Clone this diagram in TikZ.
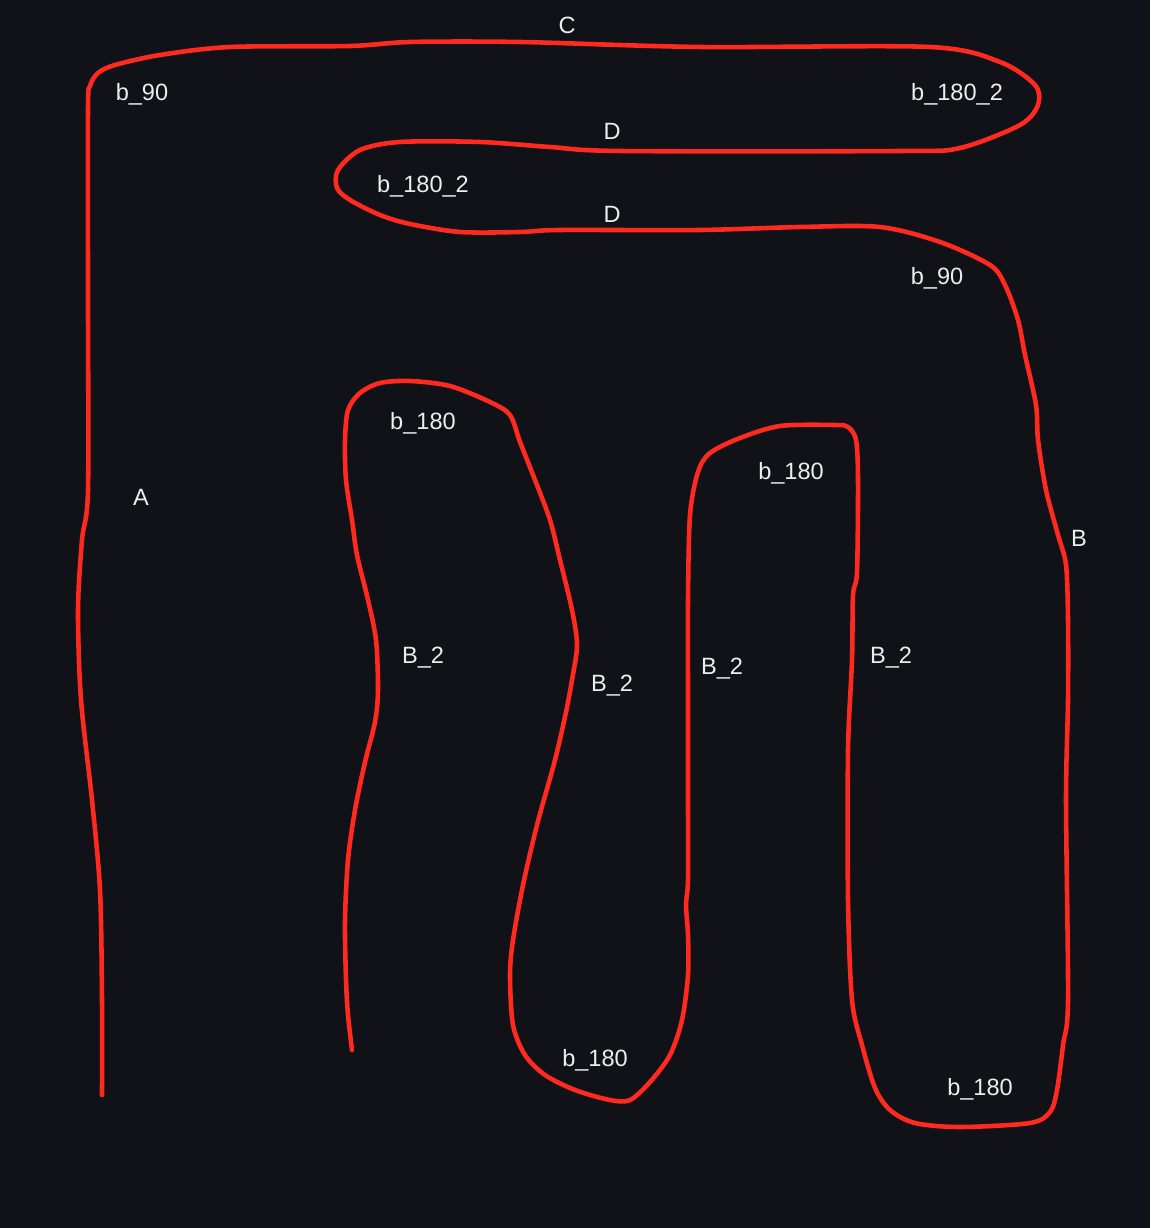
\documentclass[tikz,border=0pt]{standalone}
\usepackage{fontspec}
\setmainfont{Liberation Sans}
\usepackage{xcolor}
\usetikzlibrary{positioning}

\definecolor{bgdark}{HTML}{111217}
\definecolor{trackred}{HTML}{FF2A1F}
\definecolor{lbltext}{HTML}{EDEDED}

\begin{document}
\begin{tikzpicture}[
    x=0.01cm, y=-0.01cm,
    track/.style={draw=trackred, line width=1.3pt, line cap=round, line join=round},
    lbl/.style={text=lbltext, font=\fontsize{6.7}{8}\selectfont, inner sep=0pt},
  ]

  % background
  \fill[bgdark] (0,0) rectangle (1150,1228);
  \useasboundingbox (0,0) rectangle (1150,1228);

  % ===== the track =====
  \draw[track] plot[smooth, tension=0.5] coordinates {
    (102,1095) (102,1000) (100,890) (92,800) (81,700) (78,610) (82,540) (88,490)
    (88,300) (88,110) (90,86) (98,73) (115,65) (160,55) (230,47) (350,46)
    (410,42) (520,42) (700,47) (930,47) (1000,62) (1035,85) (1038,105)
    (1020,125) (960,148) (900,151) (620,151) (550,147) (480,142) (400,142)
    (360,150) (338,170) (337,188) (350,200) (380,215) (410,224) (460,232)
    (520,232) (560,230) (700,230) (800,227) (880,227) (940,242) (990,265)
    (1005,285) (1018,320) (1025,355) (1036,405) (1038,440) (1046,490)
    (1058,535) (1066,565) (1068,620) (1068,700) (1066,800) (1068,1000)
    (1063,1045) (1057,1090) (1050,1112) (1030,1123) (960,1127) (915,1123)
    (890,1110) (875,1088) (862,1045) (852,1000) (848,900) (848,750) (852,660)
    (853,595) (857,572) (858,480) (856,440) (848,427) (835,425) (780,426)
    (740,438) (710,453) (698,472) (690,515) (688,600) (688,700) (688,800)
    (688,880) (686,905) (688,935) (688,975) (682,1020) (670,1055) (650,1082)
    (630,1100) (610,1100) (575,1090) (545,1075) (525,1055) (513,1025)
    (510,975) (513,940) (523,885) (537,825) (555,760) (566,712) (572,680)
    (577,645) (572,610) (560,560) (550,520) (535,480) (520,442) (510,415)
    (490,402) (450,386) (410,381) (380,383) (360,393) (348,410) (345,440)
    (346,480) (352,520) (357,555) (368,600) (376,640) (378,690) (375,722)
    (365,762) (355,810) (348,860) (345,920) (346,980) (348,1015) (352,1050)
  };

  % ===== labels =====
  \node[lbl] (lC) at (567,25) {C};
  \node[lbl] (lb90a) at (142,94) {b\_90};
  \node[lbl] (lb1802a) at (957,94) {b\_180\_2};
  \node[lbl] (lDa) at (612,131) {D};
  \node[lbl] (lb1802b) at (423,186) {b\_180\_2};
  \node[lbl] (lDb) at (612,214) {D};
  \node[lbl] (lb90b) at (937,278) {b\_90};
  \node[lbl] (lA) at (141,497) {A};
  \node[lbl] (lB) at (1079,538) {B};

  \node[lbl] (lb180a) at (423,423) {b\_180};
  \node[lbl] (lb180b) at (791,473) {b\_180};
  \node[lbl] (lB2a) at (423,658) {B\_2};
  \node[lbl] (lB2b) at (612,686) {B\_2};
  \node[lbl] (lB2c) at (722,669) {B\_2};
  \node[lbl] (lB2d) at (891,658) {B\_2};
  \node[lbl] (lb180c) at (595,1060) {b\_180};
  \node[lbl] (lb180d) at (980,1089) {b\_180};

\end{tikzpicture}
\end{document}
